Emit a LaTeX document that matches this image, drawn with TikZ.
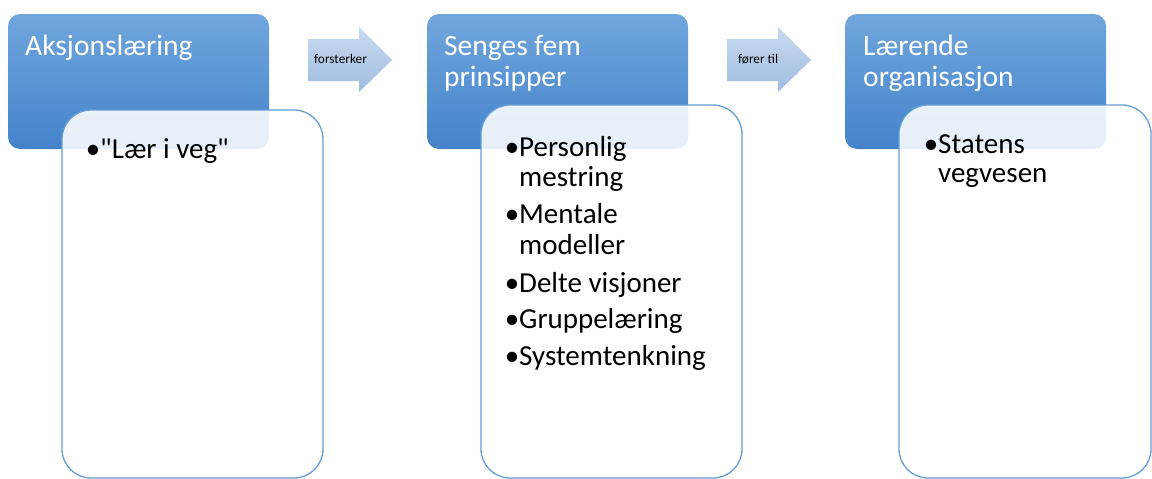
\documentclass[tikz,border=0pt]{standalone}
\usepackage{fontspec}
\setmainfont{Carlito}
\newfontfamily\calfont{Carlito}
\begin{document}
\begin{tikzpicture}[x=1pt,y=-1pt,
  bluebox/.style={rounded corners=12pt, top color=bluetop, bottom color=bluebot},
  whitebox/.style={rounded corners=29pt, draw=boxline, line width=1.3pt, fill=white, fill opacity=0.87},
  arrowshape/.style={top color=arrtop, bottom color=arrbot},
  headtxt/.style={anchor=base west, inner sep=0pt, text=white, font=\calfont\fontsize{29.5}{30}\selectfont},
  bodytxt/.style={anchor=base west, inner sep=0pt, text=black, font=\calfont\fontsize{29}{30}\selectfont},
  arrtxt/.style={anchor=base west, inner sep=0pt, text=black, font=\calfont\fontsize{13.3}{14}\selectfont}]
\definecolor{bluetop}{RGB}{112,166,220}
\definecolor{bluebot}{RGB}{68,131,203}
\definecolor{boxline}{RGB}{100,158,216}
\definecolor{arrtop}{RGB}{200,218,240}
\definecolor{arrbot}{RGB}{160,188,224}
\useasboundingbox (0,0) rectangle (1152,479);
% column 1
\shade[bluebox] (8,14) rectangle (269,149);
\draw[whitebox] (62,110) rectangle (323,478);
\node[headtxt] (h1) at (25,55) {Aksjonslæring};
\node[bodytxt] (b1) at (100,158) {\llap{•}"Lær i veg"};
% arrow 1
\shade[arrowshape] (308,39) -- (359,39) -- (359,27) -- (392,60) -- (359,92) -- (359,81) -- (308,81) -- cycle;
\node[arrtxt] (a1) at (314,63) {forsterker};
% column 2
\shade[bluebox] (427,14) rectangle (688,149);
\draw[whitebox] (481,105) rectangle (742,478);
\node[headtxt] (h2a) at (444,55) {Senges fem};
\node[headtxt] (h2b) at (444,86) {prinsipper};
\node[bodytxt] (b2a) at (519,156) {\llap{•}Personlig};
\node[bodytxt] (b2b) at (519,186) {mestring};
\node[bodytxt] (b2c) at (519,223) {\llap{•}Mentale};
\node[bodytxt] (b2d) at (519,254) {modeller};
\node[bodytxt] (b2e) at (519,292) {\llap{•}Delte visjoner};
\node[bodytxt] (b2f) at (519,328) {\llap{•}Gruppelæring};
\node[bodytxt] (b2g) at (519,365) {\llap{•}Systemtenkning};
% arrow 2
\shade[arrowshape] (727,39) -- (778,39) -- (778,27) -- (811,60) -- (778,92) -- (778,81) -- (727,81) -- cycle;
\node[arrtxt] (a2) at (738,63) {fører til};
% column 3
\shade[bluebox] (845,14) rectangle (1106,149);
\draw[whitebox] (899,105) rectangle (1151,478);
\node[headtxt] (h3a) at (863,55) {Lærende};
\node[headtxt] (h3b) at (863,86) {organisasjon};
\node[bodytxt] (b3a) at (938,153) {\llap{•}Statens};
\node[bodytxt] (b3b) at (938,182) {vegvesen};
\end{tikzpicture}
\end{document}
